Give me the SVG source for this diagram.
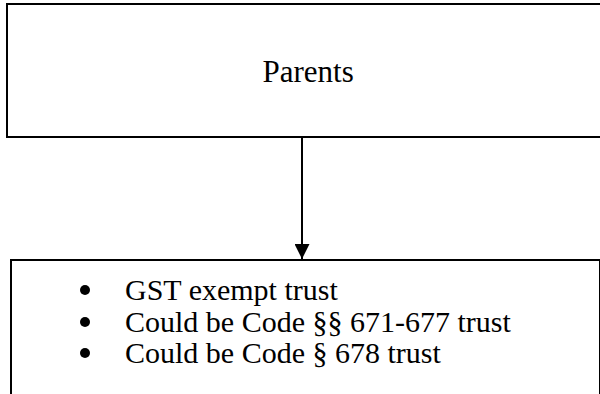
<svg xmlns="http://www.w3.org/2000/svg" width="600" height="394" viewBox="0 0 600 394">
  <style>
    .box { fill: #ffffff; stroke: #000000; stroke-width: 2; }
    .label { font-family: "Liberation Serif", "Times New Roman", serif; font-size: 31px; fill: #000000; }
    .item { font-family: "Liberation Serif", "Times New Roman", serif; font-size: 30px; fill: #000000; }
    .link { stroke: #000000; stroke-width: 2; fill: none; }
  </style>
  <defs>
    <marker id="arrow" viewBox="0 0 15 15" refX="15" refY="7.5" markerWidth="15" markerHeight="15" markerUnits="userSpaceOnUse" orient="auto">
      <path d="M0,0 L15,7.5 L0,15 Z" fill="#000000"/>
    </marker>
  </defs>
  <rect width="600" height="394" fill="#ffffff"/>

  <g id="parents">
    <rect class="box" x="7" y="4" width="600" height="133"/>
    <text class="label" x="262.5" y="82">Parents</text>
  </g>

  <g id="connectors">
    <line class="link" x1="302" y1="137" x2="302" y2="259" marker-end="url(#arrow)"/>
  </g>

  <g id="trust">
    <rect class="box" x="11" y="260" width="589" height="150"/>
    <g class="item">
      <circle cx="85" cy="290" r="5"/>
      <text x="125" y="300">GST exempt trust</text>
      <circle cx="85" cy="322" r="5"/>
      <text x="125" y="332">Could be Code §§ 671-677 trust</text>
      <circle cx="85" cy="353" r="5"/>
      <text x="125" y="363">Could be Code § 678 trust</text>
    </g>
  </g>
</svg>
